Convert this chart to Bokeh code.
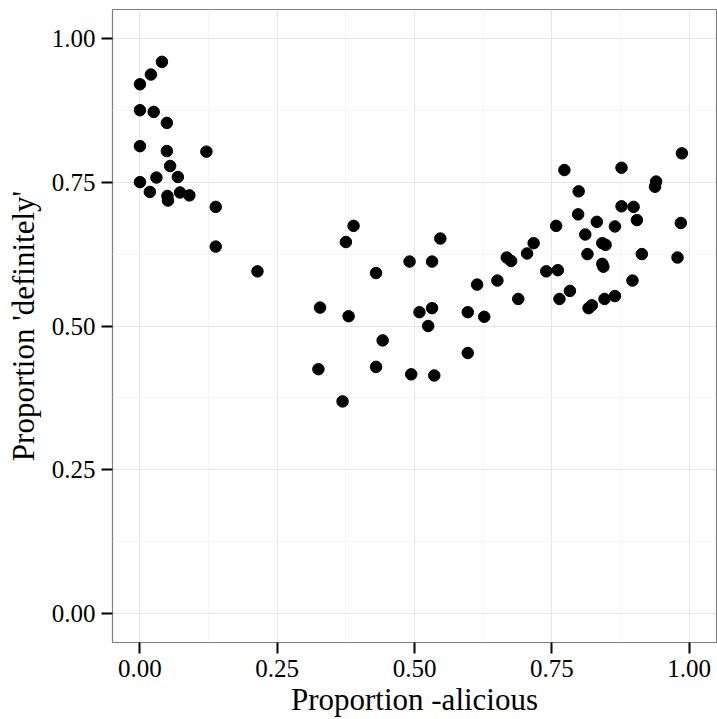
from bokeh.plotting import figure
from bokeh.models import FixedTicker, Range1d
from bokeh.embed import file_html
from bokeh.resources import INLINE

# Proportion -alicious (x) and Proportion 'definitely' (y)
x_alicious = [
    0.040, 0.020, 0.000, 0.000, 0.025, 0.049, 0.000, 0.049, 0.121, 0.055,
    0.030, 0.069, 0.000, 0.018, 0.050, 0.051, 0.073, 0.090, 0.138, 0.138,
    0.214,
    0.389, 0.375, 0.547, 0.491, 0.532, 0.430, 0.614, 0.651, 0.668, 0.676,
    0.705, 0.717, 0.689, 0.328, 0.380, 0.509, 0.532, 0.597, 0.627, 0.525,
    0.442, 0.597, 0.325, 0.430, 0.494, 0.536, 0.369,
    0.987, 0.773, 0.877, 0.940, 0.938, 0.799, 0.877, 0.899, 0.798, 0.905,
    0.832, 0.985, 0.758, 0.865, 0.811, 0.842, 0.848, 0.815, 0.914, 0.979,
    0.842, 0.844, 0.740, 0.761, 0.897, 0.783, 0.764, 0.865, 0.846, 0.823,
    0.817,
]
y_definitely = [
    0.959, 0.937, 0.920, 0.875, 0.872, 0.853, 0.8125, 0.804, 0.803, 0.778,
    0.758, 0.759, 0.750, 0.733, 0.726, 0.718, 0.732, 0.727, 0.707, 0.638,
    0.595,
    0.674, 0.646, 0.652, 0.612, 0.612, 0.592, 0.572, 0.579, 0.619, 0.613,
    0.626, 0.644, 0.547, 0.532, 0.517, 0.524, 0.531, 0.524, 0.516, 0.500,
    0.475, 0.453, 0.425, 0.429, 0.416, 0.414, 0.369,
    0.800, 0.771, 0.775, 0.751, 0.742, 0.734, 0.708, 0.707, 0.694, 0.684,
    0.681, 0.679, 0.674, 0.673, 0.659, 0.644, 0.641, 0.625, 0.625, 0.619,
    0.608, 0.603, 0.595, 0.597, 0.579, 0.561, 0.547, 0.552, 0.547, 0.536,
    0.531,
]

major_ticks = [0.0, 0.25, 0.5, 0.75, 1.0]
minor_ticks = [0.125, 0.375, 0.625, 0.875]
tick_labels = {0.0: "0.00", 0.25: "0.25", 0.5: "0.50", 0.75: "0.75", 1.0: "1.00"}

FONT = "Liberation Serif"

p = figure(
    width=717, height=719,
    output_backend="svg", toolbar_location=None,
    x_range=Range1d(-0.05, 1.05), y_range=Range1d(-0.05, 1.05),
    min_border_left=112, min_border_right=1, min_border_top=9, min_border_bottom=77,
)
p.background_fill_color = "white"
p.border_fill_color = "white"
p.outline_line_color = "#7f7f7f"
p.outline_line_width = 1.2

for ax in (p.xaxis[0], p.yaxis[0]):
    ax.ticker = FixedTicker(ticks=major_ticks, minor_ticks=minor_ticks)
    ax.major_label_overrides = tick_labels
    ax.axis_line_color = None
    ax.major_tick_line_color = "black"
    ax.major_tick_line_width = 2
    ax.major_tick_in = 0
    ax.major_tick_out = 11
    ax.minor_tick_line_color = None
    ax.major_label_text_font = FONT
    ax.major_label_text_font_size = "25px"
    ax.major_label_text_color = "black"
    ax.axis_label_text_font = FONT
    ax.axis_label_text_font_size = "31px"
    ax.axis_label_text_font_style = "normal"
    ax.axis_label_text_color = "black"

p.xaxis.axis_label = "Proportion -alicious"
p.yaxis.axis_label = "Proportion 'definitely'"
p.xaxis.major_label_standoff = 6
p.yaxis.major_label_standoff = 6
p.xaxis.axis_label_standoff = 2
p.yaxis.axis_label_standoff = 8

for g in (p.xgrid[0], p.ygrid[0]):
    g.grid_line_color = "#e5e5e5"
    g.grid_line_width = 1
    g.minor_grid_line_color = "#f5f5f5"
    g.minor_grid_line_width = 1

p.scatter(x_alicious, y_definitely, size=11.5, color="black", line_color="black")

open("out.html", "w").write(file_html(p, INLINE))
